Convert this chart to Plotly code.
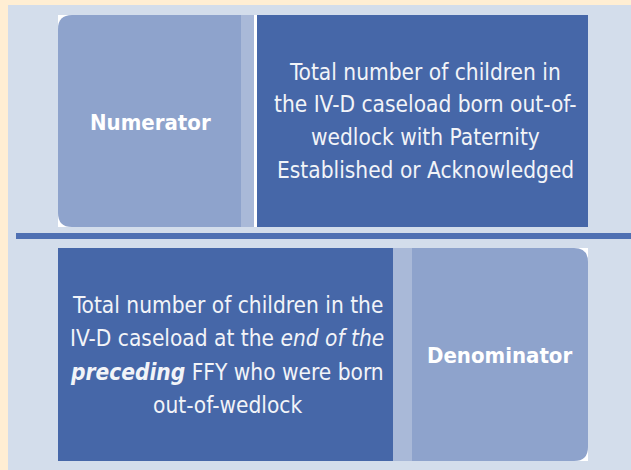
import plotly.graph_objects as go

# Diagram content
labels = ["Numerator", "Denominator"]
top_lines = [
    "Total number of children in",
    "the IV-D caseload born out-of-",
    "wedlock with Paternity",
    "Established or Acknowledged",
]
bottom_lines = [
    "Total number of children in the",
    "IV-D caseload at the <i>end of the</i>",
    "<b><i>preceding</i></b> FFY who were born",
    "out-of-wedlock",
]

W, H = 631, 470
CREAM = "#FFEED3"
PANEL = "#D3DDEB"
LIGHT = "#8EA3CC"
STRIP = "#A9B9D8"
DARK = "#4667A8"
SEP = "#4F70B3"
FONT = "DejaVu Sans Condensed"

fig = go.Figure()
fig.add_trace(go.Scatter(x=[0, W], y=[0, H], mode="markers", marker=dict(opacity=0), hoverinfo="skip", showlegend=False))

shapes = []
def rect(x0, y0, x1, y1, color):
    shapes.append(dict(type="rect", x0=x0, y0=y0, x1=x1, y1=y1, fillcolor=color, line=dict(width=0), layer="below"))

def rounded(x0, y0, x1, y1, r, side, color):
    if side == "left":
        p = (f"M {x0+r},{y0} L {x1},{y0} L {x1},{y1} L {x0+r},{y1} "
             f"Q {x0},{y1} {x0},{y1-r} L {x0},{y0+r} Q {x0},{y0} {x0+r},{y0} Z")
    else:
        p = (f"M {x0},{y0} L {x1-r},{y0} Q {x1},{y0} {x1},{y0+r} L {x1},{y1-r} "
             f"Q {x1},{y1} {x1-r},{y1} L {x0},{y1} Z")
    shapes.append(dict(type="path", path=p, fillcolor=color, line=dict(width=0), layer="below"))

rect(0, 0, W, H, CREAM)
rect(8, 5, W, H, PANEL)

# top row
rect(58, 15, 241, 227, "#FFFFFF")
rounded(58, 15, 241, 227, 14, "left", LIGHT)
rect(241, 15, 254, 227, STRIP)
rect(254, 15, 257, 227, "#FFFFFF")
rect(257, 15, 588, 227, DARK)

# separator
rect(16, 233, W, 239, SEP)

# bottom row
rect(58, 248, 393, 461, DARK)
rect(393, 248, 412, 461, STRIP)
rect(412, 248, 588, 461, "#FFFFFF")
rounded(412, 248, 588, 461, 14, "right", LIGHT)

annotations = [
    dict(x=150, y=122, text=f"<b>{labels[0]}</b>", font=dict(family=FONT, size=22, color="#FFFFFF")),
    dict(x=499, y=355, text=f"<b>{labels[1]}</b>", font=dict(family=FONT, size=22, color="#FFFFFF")),
]
top_y = [72, 104, 137, 170]
for t, y in zip(top_lines, top_y):
    annotations.append(dict(x=425, y=y, text=t, font=dict(family=FONT, size=22.5, color="#F2F4F8")))
bot_y = [305, 338, 372, 405]
for t, y in zip(bottom_lines, bot_y):
    annotations.append(dict(x=227, y=y, text=t, font=dict(family=FONT, size=22.5, color="#F2F4F8")))
for a in annotations:
    a.update(xref="x", yref="y", showarrow=False, align="center", xanchor="center", yanchor="middle")

fig.update_layout(
    width=W, height=H,
    margin=dict(l=0, r=0, t=0, b=0),
    paper_bgcolor=PANEL, plot_bgcolor=PANEL,
    shapes=shapes, annotations=annotations,
    xaxis=dict(range=[0, W], visible=False, fixedrange=True),
    yaxis=dict(range=[H, 0], visible=False, fixedrange=True),
    showlegend=False,
)
fig.write_html("out.html", config=dict(displayModeBar=False),
               post_script="document.body.style.margin='0';document.body.style.overflow='hidden';")
